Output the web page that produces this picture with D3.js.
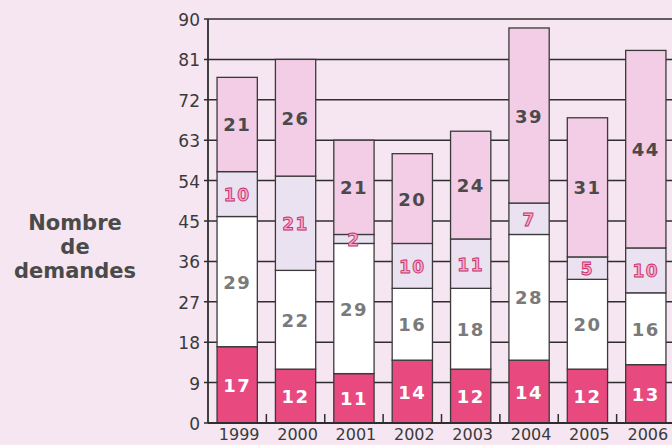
<!DOCTYPE html>
<html>
<head>
<meta charset="utf-8">
<script src="https://cdn.jsdelivr.net/npm/d3@7"></script>
<style>
  html, body { margin: 0; padding: 0; background: #F6E6F1; }
  svg { display: block; }
</style>
</head>
<body>
<svg id="chart" width="672" height="445"></svg>
<script>
// ---- data ----
const years = ["1999", "2000", "2001", "2002", "2003", "2004", "2005", "2006"];
const serieA = [17, 12, 11, 14, 12, 14, 12, 13];   // bottom, dark pink
const serieB = [29, 22, 29, 16, 18, 28, 20, 16];   // white
const serieC = [10, 21, 2, 10, 11, 7, 5, 10];      // lavender
const serieD = [21, 26, 21, 20, 24, 39, 31, 44];   // top, light pink
const yTicks = [0, 9, 18, 27, 36, 45, 54, 63, 72, 81, 90];
const titleLines = ["Nombre", "de", "demandes"];

// ---- build table ----
const keys = ["A", "B", "C", "D"];
const table = years.map((y, i) => ({ year: y, A: serieA[i], B: serieB[i], C: serieC[i], D: serieD[i] }));
const stacked = d3.stack().keys(keys)(table);

const fills = { A: "#E8497F", B: "#FFFFFF", C: "#EAE2F0", D: "#F3CCE6" };

const svg = d3.select("#chart");
svg.append("rect").attr("width", 672).attr("height", 445).attr("fill", "#F6E6F1");

const x = d3.scaleBand().domain(years).range([208, 675]).paddingInner(0.31).paddingOuter(0.155);
const y = d3.scaleLinear().domain([0, 90]).range([423, 19]);

// gridlines
svg.append("g").selectAll("line").data(yTicks).join("line")
  .attr("x1", 204).attr("x2", 672)
  .attr("y1", d => y(d)).attr("y2", d => y(d))
  .attr("stroke", "#2e2e2e").attr("stroke-width", 1.5);

// axis line
svg.append("line").attr("x1", 208).attr("x2", 208).attr("y1", y(90)).attr("y2", y(0))
  .attr("stroke", "#2e2e2e").attr("stroke-width", 1.8);

// small ticks between bars at bottom
svg.append("g").selectAll("line").data(years).join("line")
  .attr("x1", d => x(d) + x.bandwidth() + (x.step() - x.bandwidth()) / 2)
  .attr("x2", d => x(d) + x.bandwidth() + (x.step() - x.bandwidth()) / 2)
  .attr("y1", y(0)).attr("y2", y(0) - 9)
  .attr("stroke", "#2e2e2e").attr("stroke-width", 1.5);

// bars
const layer = svg.append("g").selectAll("g").data(stacked).join("g")
  .attr("fill", d => fills[d.key]);
layer.selectAll("rect").data(d => d).join("rect")
  .attr("x", d => x(d.data.year))
  .attr("width", x.bandwidth())
  .attr("y", d => y(d[1]))
  .attr("height", d => y(d[0]) - y(d[1]))
  .attr("stroke", "#3a3a3a").attr("stroke-width", 1.3);

// baseline
svg.append("line").attr("x1", 208).attr("x2", 672).attr("y1", y(0)).attr("y2", y(0))
  .attr("stroke", "#2e2e2e").attr("stroke-width", 1.8);

// segment labels
const labelStyle = {
  A: { fill: "#FFFFFF", stroke: "none" },
  B: { fill: "#7a7a7a", stroke: "none" },
  C: { fill: "#F4A9C8", stroke: "#C8306E" },
  D: { fill: "#4a4a4a", stroke: "none" }
};
stacked.forEach(s => {
  svg.append("g").selectAll("text").data(s).join("text")
    .attr("x", d => x(d.data.year) + x.bandwidth() / 2)
    .attr("y", d => (y(d[0]) + y(d[1])) / 2 + 7)
    .attr("text-anchor", "middle")
    .attr("font-family", "DejaVu Sans")
    .attr("font-weight", "bold")
    .attr("font-size", s.key === "C" ? 17 : 18)
    .attr("letter-spacing", 1.5)
    .attr("fill", labelStyle[s.key].fill)
    .attr("stroke", labelStyle[s.key].stroke)
    .attr("stroke-width", s.key === "C" ? 0.9 : 0)
    .text(d => d.data[s.key]);
});

// y tick labels
svg.append("g").selectAll("text").data(yTicks).join("text")
  .attr("x", 200).attr("y", d => y(d) + 7)
  .attr("text-anchor", "end")
  .attr("font-family", "DejaVu Sans")
  .attr("font-size", 17)
  .attr("fill", "#3a3a3a")
  .text(d => d);

// x labels
svg.append("g").selectAll("text").data(years).join("text")
  .attr("x", d => x(d) + x.bandwidth() / 2 + 2)
  .attr("y", 440)
  .attr("text-anchor", "middle")
  .attr("font-family", "DejaVu Sans")
  .attr("font-size", 16)
  .attr("fill", "#3a3a3a")
  .text(d => d);

// title
svg.append("g").selectAll("text").data(titleLines).join("text")
  .attr("x", 75).attr("y", (d, i) => 230 + i * 24)
  .attr("text-anchor", "middle")
  .attr("font-family", "DejaVu Sans")
  .attr("font-weight", "bold")
  .attr("font-size", 21)
  .attr("fill", "#4a4a4a")
  .text(d => d);
</script>
</body>
</html>
